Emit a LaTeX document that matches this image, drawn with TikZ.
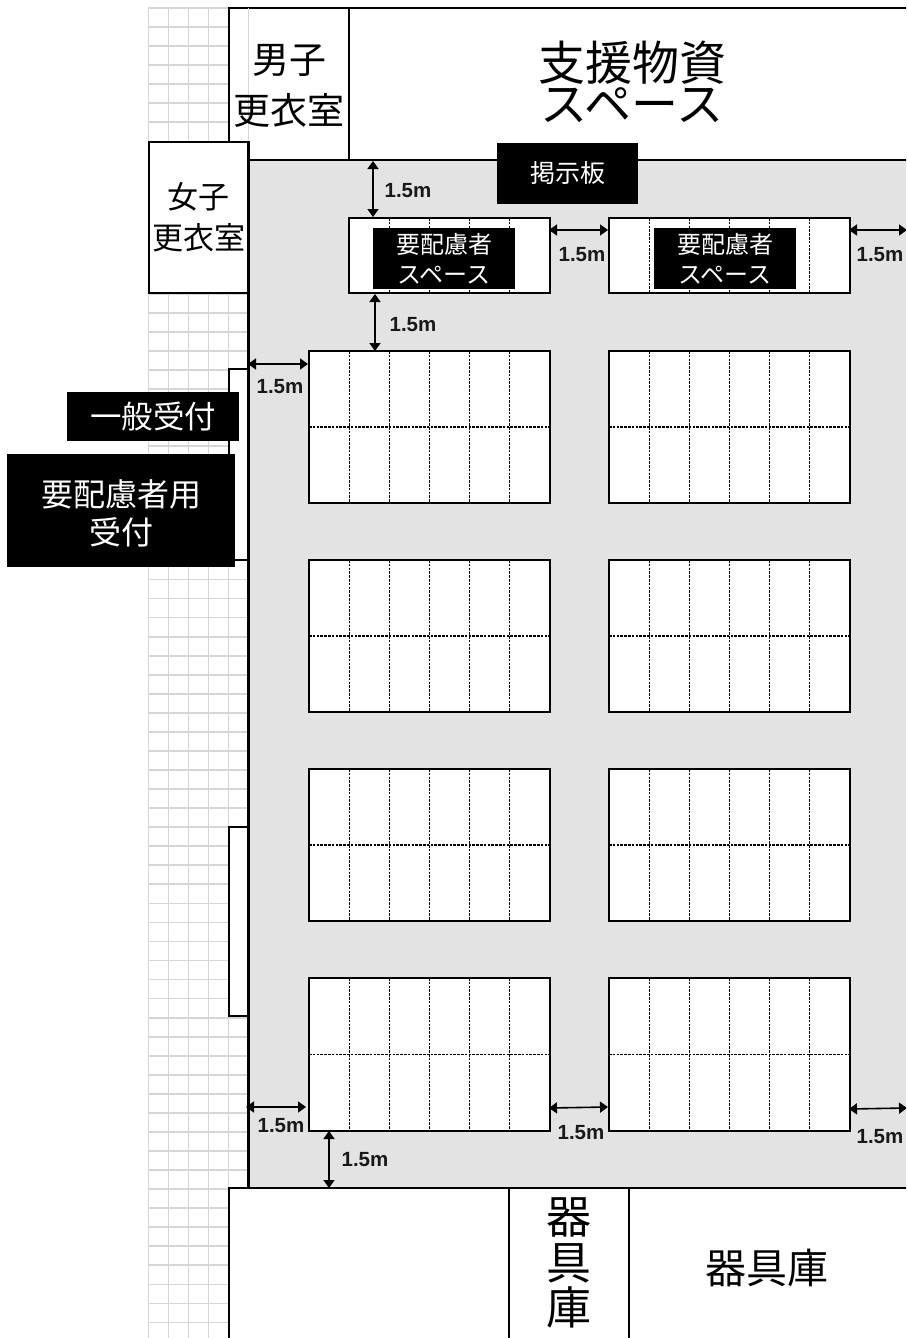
\documentclass[tikz,border=0pt]{standalone}
\usepackage{fontspec}
\setmainfont{Liberation Sans}
\newfontfamily\jp{Noto Sans CJK JP}
\usetikzlibrary{arrows.meta}
\newcommand{\jps}[1]{\jp\fontsize{#1}{#1}\selectfont}
\tikzset{
  x=1pt,y=-1pt,
  gridline/.style={draw=black!16,line width=1.7pt},
  wall/.style={draw=black,line width=2.2pt},
  room/.style={wall,fill=white,inner sep=0pt,outer sep=0pt,align=center,text=black},
  plate/.style={fill=black,inner sep=0pt,outer sep=0pt,align=center,text=white},
  label/.style={inner sep=0pt,align=center},
  seat/.style={draw=black,line width=1.1pt,dash pattern=on 2.6pt off 1.2pt},
  dim/.style={{Triangle[width=11pt,length=8pt]}-{Triangle[width=11pt,length=8pt]},line width=1.6pt,shorten <=-1pt,shorten >=-1pt},
  dimtext/.style={font=\fontsize{20.5}{20.5}\selectfont\bfseries,inner sep=0pt,text=black!90}
}
\newcommand{\boxnode}[7]{% style,name,x0,y0,x1,y1,text
  \pgfmathsetmacro{\bw}{#5-#3}\pgfmathsetmacro{\bh}{#6-#4}
  \pgfmathsetmacro{\bx}{(#3+#5)/2}\pgfmathsetmacro{\by}{(#4+#6)/2}
  \node[#1,minimum width=\bw pt,minimum height=\bh pt] (#2) at (\bx,\by) {#7};
}
\newcommand{\block}[5]{% name,x0,x1,y0,y1
  \boxnode{room}{#1}{#2}{#4}{#3}{#5}{}
  \pgfmathsetmacro{\n}{int(round((#3-#2)/40.1))-1}
  \foreach \i in {1,...,\n}{
    \pgfmathsetmacro{\sx}{#2+40.1*\i}
    \draw[seat] (\sx,#4) -- (\sx,#5);
  }
}
\newcommand{\twoblock}[5]{%
  \block{#1}{#2}{#3}{#4}{#5}
  \pgfmathsetmacro{\my}{(#4+#5)/2}
  \draw[seat] (#1.west |- 0,\my) -- (#1.east |- 0,\my);
}
\newcommand{\dimline}[5]{% name,x0,y0,x1,y1
  \coordinate (#1a) at (#2,#3); \coordinate (#1b) at (#4,#5);
  \draw[dim] (#1a) -- (#1b);
}
\begin{document}
\begin{tikzpicture}
\clip (0,0) rectangle (906,1338);
\fill[white] (0,0) rectangle (906,1338);
% paved grid
\foreach \gx in {148.5,168.5,188.5,208.5,228.5,248.5}
  \draw[gridline] (\gx,8) -- (\gx,1338);
\foreach \k in {0,...,70}{
  \pgfmathsetmacro{\gy}{8+19.05*\k}
  \draw[gridline] (148,\gy) -- (249,\gy);
}
% floor
\fill[black!11] (248.5,160) rectangle (910,1188);
% upper rooms
\boxnode{room}{men}{229}{8}{349}{160}{}
\boxnode{room}{store}{349}{8}{915}{160}{}
\draw[gridline] (248.5,8) -- (248.5,142);
\node[label,font=\jps{37}] (mentext) at (289,85.5) {男子\\[14pt]更衣室};
\node[label,font=\jps{47}] (storetext) at (632,82) {支援物資\\[-6pt]スペース};
\boxnode{room,font=\jps{31}}{women}{149}{142}{248.5}{293}{女子\\[10pt]更衣室}
% wall and receptions
\draw[wall] (women.south east) -- (248.5,1188);
\boxnode{room}{recA}{229}{369}{248.5}{560}{}
\boxnode{room}{recB}{229}{827}{248.5}{1016}{}
% lower rooms
\boxnode{room}{lowA}{229}{1188}{509}{1350}{}
\boxnode{room}{lowB}{509}{1188}{629}{1350}{}
\boxnode{room}{lowC}{629}{1188}{915}{1350}{}
\node[label,font=\jps{45}] (toolsV) at (569,1263) {器\\[0.5pt]具\\[0.5pt]庫};
\node[label,font=\jps{41}] (toolsH) at (767,1268) {器具庫};
% seat blocks
\block{topA}{349}{550}{218}{293}
\block{topB}{609}{850}{218}{293}
\twoblock{a1}{309}{550}{351}{503}
\twoblock{b1}{609}{850}{351}{503}
\twoblock{a2}{309}{550}{560}{712}
\twoblock{b2}{609}{850}{560}{712}
\twoblock{a3}{309}{550}{769}{921}
\twoblock{b3}{609}{850}{769}{921}
\twoblock{a4}{309}{550}{978}{1131}
\twoblock{b4}{609}{850}{978}{1131}
% black plates
\boxnode{plate,font=\jps{25}}{board}{497}{143}{638}{204}{掲示板}
\boxnode{plate,font=\jps{24}}{needA}{373}{228}{515}{289}{要配慮者\\[6pt]スペース}
\boxnode{plate,font=\jps{24}}{needB}{654}{228}{796}{289}{要配慮者\\[6pt]スペース}
\boxnode{plate,font=\jps{31.5}}{general}{67}{392}{239}{441}{一般受付}
\boxnode{plate}{needRec}{7}{454}{235}{567}{}
\node[label,text=white,font=\jps{32}] (needRecText) at (121,513) {要配慮者用\\[6pt]受付};
% dimensions
\dimline{d1}{373}{162}{373}{216}
\dimline{d2}{375}{295}{375}{350}
\dimline{d3}{249}{364}{307}{364}
\dimline{d4}{550}{230}{607}{230}
\dimline{d5}{850}{230}{906}{230}
\dimline{d6}{247}{1107}{305}{1107}
\dimline{d7}{550}{1108}{607}{1107}
\dimline{d8}{850}{1109}{906}{1108}
\dimline{d9}{329}{1132}{329}{1187}
\node[dimtext] (l1) at (408,191) {1.5m};
\node[dimtext] (l2) at (413,325) {1.5m};
\node[dimtext] (l3) at (280,387) {1.5m};
\node[dimtext] (l4) at (582,255) {1.5m};
\node[dimtext] (l5) at (880,255) {1.5m};
\node[dimtext] (l6) at (281,1126) {1.5m};
\node[dimtext] (l7) at (581,1133) {1.5m};
\node[dimtext] (l8) at (880,1137) {1.5m};
\node[dimtext] (l9) at (365,1160) {1.5m};
\end{tikzpicture}
\end{document}
